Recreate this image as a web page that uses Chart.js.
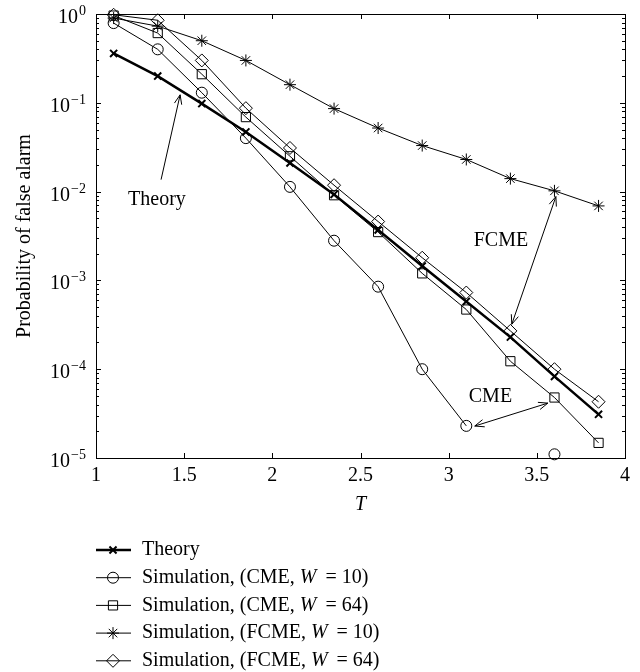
<!DOCTYPE html>
<html>
<head>
<meta charset="utf-8">
<script src="https://cdn.jsdelivr.net/npm/chart.js@4/dist/chart.umd.min.js"></script>
<style>
  html, body { margin: 0; padding: 0; background: #fff; }
</style>
</head>
<body>
<canvas id="chart" width="640" height="672"></canvas>
<script>
// threshold T and probability of false alarm
const thresholds = [1.1, 1.35, 1.6, 1.85, 2.1, 2.35, 2.6, 2.85, 3.1, 3.35, 3.6, 3.85];
const theory  = [0.36, 0.2, 0.098, 0.047, 0.021, 0.0093, 0.0037, 0.00145, 0.00058, 0.00023, 0.000083, 0.000031];
const cmeW10  = [0.79, 0.4, 0.13, 0.04, 0.0113, 0.0028, 0.00085, 0.0001, 0.000023, null, 0.000011, null];
const cmeW64  = [0.96, 0.61, 0.21, 0.069, 0.025, 0.0091, 0.0035, 0.0012, 0.00047, 0.000123, 0.000048, 0.0000148];
const fcmeW10 = [0.9, 0.73, 0.5, 0.3, 0.16, 0.086, 0.052, 0.033, 0.023, 0.014, 0.0102, 0.0069];
const fcmeW64 = [0.98, 0.85, 0.3, 0.087, 0.031, 0.0118, 0.0046, 0.0018, 0.00073, 0.00027, 0.0001, 0.000043];

const xTicks = [1, 1.5, 2, 2.5, 3, 3.5, 4];
const yDecades = [0, -1, -2, -3, -4, -5];

// legend text: [plain, italic, plain]
const legendLabels = [
  ['Theory', '', ''],
  ['Simulation, (CME, ', 'W', ' \u2009= 10)'],
  ['Simulation, (CME, ', 'W', ' \u2009= 64)'],
  ['Simulation, (FCME, ', 'W', ' \u2009= 10)'],
  ['Simulation, (FCME, ', 'W', ' \u2009= 64)']
];

const serif = '"Liberation Serif", "Times New Roman", serif';

const toPoints = vals => thresholds.map((t, i) => ({ x: t, y: vals[i] }));

const series = (vals, style, radius, width) => ({
  data: toPoints(vals),
  borderColor: '#000',
  backgroundColor: 'transparent',
  borderWidth: width,
  pointStyle: style,
  pointRadius: radius,
  pointBorderWidth: width > 1 ? 2 : 1,
  pointBorderColor: '#000',
  pointBackgroundColor: 'transparent',
  spanGaps: false,
  clip: false
});

function arrowHead(ctx, x0, y0, x1, y1) {
  const a = Math.atan2(y1 - y0, x1 - x0);
  const len = 10, spread = 0.38;
  ctx.beginPath();
  ctx.moveTo(x1 - len * Math.cos(a - spread), y1 - len * Math.sin(a - spread));
  ctx.lineTo(x1, y1);
  ctx.lineTo(x1 - len * Math.cos(a + spread), y1 - len * Math.sin(a + spread));
  ctx.stroke();
}

const decorations = {
  id: 'decorations',
  afterDraw(chart) {
    const { ctx, chartArea: area, scales } = chart;
    const xs = scales.x, ys = scales.y;
    ctx.save();
    ctx.strokeStyle = '#000';
    ctx.fillStyle = '#000';
    ctx.lineWidth = 1;

    // frame
    ctx.strokeRect(area.left + 0.5, area.top + 0.5, area.right - area.left, area.bottom - area.top);

    // inward ticks
    ctx.beginPath();
    xTicks.forEach(v => {
      const px = Math.round(xs.getPixelForValue(v)) + 0.5;
      ctx.moveTo(px, area.bottom); ctx.lineTo(px, area.bottom - 5);
      ctx.moveTo(px, area.top); ctx.lineTo(px, area.top + 5);
    });
    yDecades.forEach(e => {
      for (let m = 1; m <= 9; m++) {
        if (e === 0 && m > 1) break;
        const py = Math.round(ys.getPixelForValue(m * Math.pow(10, e))) + 0.5;
        const len = m === 1 ? 5 : 3;
        ctx.moveTo(area.left, py); ctx.lineTo(area.left + len, py);
        ctx.moveTo(area.right, py); ctx.lineTo(area.right - len, py);
      }
    });
    ctx.stroke();

    // y tick labels 10^k
    yDecades.forEach(e => {
      const py = ys.getPixelForValue(Math.pow(10, e));
      const exp = e === 0 ? '0' : '\u2212' + (-e);
      ctx.font = '14px ' + serif;
      const we = ctx.measureText(exp).width;
      const right = 86;
      ctx.textAlign = 'left';
      ctx.textBaseline = 'alphabetic';
      ctx.fillText(exp, right - we, py + 1);
      ctx.font = '20px ' + serif;
      ctx.textAlign = 'right';
      ctx.fillText('10', right - we - 1, py + 9);
    });

    // annotations (data coordinates)
    const P = (x, y) => [xs.getPixelForValue(x), ys.getPixelForValue(y)];
    ctx.font = '20px ' + serif;
    ctx.textAlign = 'left';
    ctx.textBaseline = 'middle';
    [['Theory', 1.182, 0.0080], ['FCME', 3.142, 0.0028], ['CME', 3.114, 0.0000485]].forEach(([t, x, y]) => {
      const [px, py] = P(x, y);
      ctx.fillText(t, px, py);
    });
    const arrows = [
      [1.369, 0.01364, 1.477, 0.123, false],
      [3.358, 0.000321, 3.608, 0.00879, true],
      [3.148, 0.0000229, 3.5625, 0.0000415, true]
    ];
    arrows.forEach(([x0, y0, x1, y1, both]) => {
      const [a, b] = P(x0, y0), [c, d] = P(x1, y1);
      ctx.beginPath(); ctx.moveTo(a, b); ctx.lineTo(c, d); ctx.stroke();
      arrowHead(ctx, a, b, c, d);
      if (both) arrowHead(ctx, c, d, a, b);
    });

    // legend below the axes
    chart.data.datasets.forEach((ds, i) => {
      const y = area.bottom + 92 + i * 27.7;
      ctx.lineWidth = ds.borderWidth;
      ctx.beginPath(); ctx.moveTo(96, y); ctx.lineTo(131, y); ctx.stroke();
      ctx.lineWidth = ds.pointBorderWidth;
      ctx.fillStyle = 'rgba(0,0,0,0)';
      Chart.helpers.drawPoint(ctx, { pointStyle: ds.pointStyle, radius: ds.pointRadius, borderWidth: ds.pointBorderWidth, rotation: 0 }, 113, y);
      ctx.fillStyle = '#000';
      let x = 142;
      legendLabels[i].forEach((part, k) => {
        if (!part) return;
        ctx.font = (k === 1 ? 'italic ' : '') + '20px ' + serif;
        ctx.textAlign = 'left';
        ctx.textBaseline = 'middle';
        ctx.fillText(part, x, y);
        x += ctx.measureText(part).width;
      });
    });
    ctx.restore();
  }
};

new Chart(document.getElementById('chart'), {
  type: 'line',
  data: {
    datasets: [
      series(theory, 'crossRot', 5, 2.5),
      series(cmeW10, 'circle', 5.5, 1),
      series(cmeW64, 'rect', 6.5, 1),
      series(fcmeW10, 'star', 6, 1),
      series(fcmeW64, 'rectRot', 6.5, 1)
    ]
  },
  options: {
    responsive: false,
    animation: false,
    layout: { padding: { top: 14, right: 15, bottom: 155, left: 0 } },
    plugins: { legend: { display: false }, tooltip: { enabled: false } },
    elements: { line: { tension: 0 } },
    scales: {
      x: {
        type: 'linear',
        min: 1,
        max: 4,
        grid: { display: false, drawTicks: false },
        border: { display: false },
        ticks: { stepSize: 0.5, padding: 6, color: '#000', font: { family: serif, size: 20 }, callback: v => String(v) },
        title: { display: true, text: 'T', color: '#000', padding: 0, font: { family: serif, size: 20, style: 'italic' } },
        afterFit: s => { s.height = 59; }
      },
      y: {
        type: 'logarithmic',
        min: 1e-5,
        max: 1,
        grid: { display: false, drawTicks: false },
        border: { display: false },
        ticks: { display: false },
        title: { display: true, text: 'Probability of false alarm', color: '#000', padding: { top: 13, bottom: 0 }, font: { family: serif, size: 20 } },
        afterFit: s => { s.width = 96; }
      }
    }
  },
  plugins: [decorations]
});
</script>
</body>
</html>
